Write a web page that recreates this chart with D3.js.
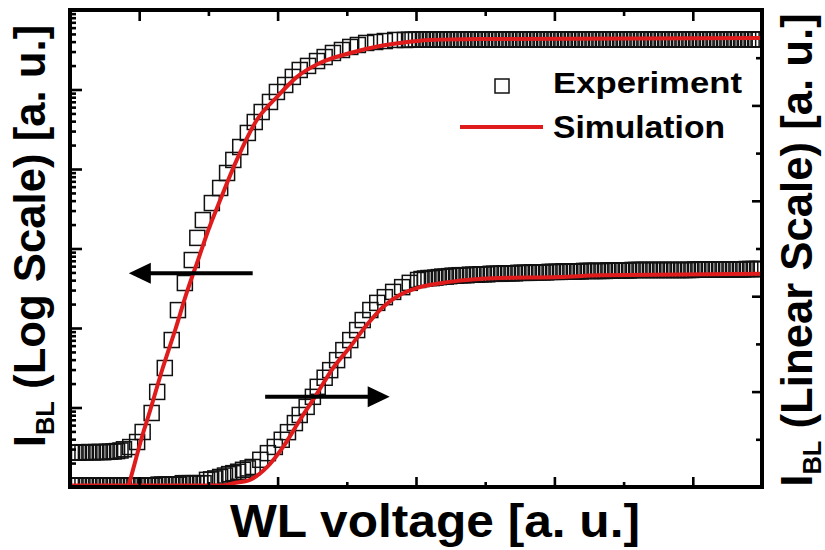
<!DOCTYPE html>
<html><head><meta charset="utf-8">
<script src="https://cdn.jsdelivr.net/npm/d3@7"></script>
<style>body{margin:0;background:#fff}text{font-family:"Liberation Sans",Arial,sans-serif;font-weight:bold;fill:#000}</style>
</head><body><svg id="c" width="825" height="550"></svg>
<script>
// ---- data: [WL voltage (a.u.), I_BL] ----
// Experiment on log axis (I_BL in nA)
const logExperiment = [
[0.03,0.00270],[0.08,0.00272],[0.13,0.00270],[0.18,0.00274],[0.23,0.00272],[0.28,0.00275],[0.33,0.00273],[0.38,0.00275],
[0.43,0.00276],[0.48,0.00274],[0.53,0.00277],[0.58,0.00278],[0.63,0.00280],[0.68,0.00283],[0.73,0.00288],[0.78,0.00298],
[0.87,0.00318],[0.97,0.00368],[1.05,0.00492],[1.18,0.00853],[1.26,0.0157],[1.37,0.0314],[1.47,0.0706],[1.56,0.168],
[1.66,0.368],[1.76,0.716],[1.84,1.36],[1.92,2.28],[2.05,3.73],[2.17,5.77],[2.27,8.91],[2.36,13.0],[2.46,18.9],[2.57,28.4],
[2.67,39.0],[2.77,52.1],[2.89,69.7],[2.99,93.1],[3.11,114],[3.22,144],[3.32,176],[3.44,198],[3.57,228],[3.68,256],
[3.80,288],[3.93,314],[4.05,343],[4.16,363],[4.28,385],[4.41,396],[4.55,407],[4.70,420],[4.84,420],
[4.90,422],[4.95,423],[5.00,424],[5.05,425],[5.10,425],[5.15,426],[5.20,426],[5.25,426],[5.30,426],[5.35,427],[5.40,426],
[5.45,426],[5.50,427],[5.55,426],[5.60,427],[5.65,426],[5.70,427],[5.75,427],[5.80,426],[5.85,427],[5.90,427],[5.95,426],
[6.00,427],[6.05,427],[6.10,427],[6.15,426],[6.20,427],[6.25,427],[6.30,427],[6.35,427],[6.40,426],[6.45,427],[6.50,427],
[6.55,427],[6.60,427],[6.65,427],[6.70,426],[6.75,427],[6.80,427],[6.85,427],[6.90,427],[6.95,427],[7.00,427],[7.05,426],
[7.10,427],[7.15,427],[7.20,427],[7.25,427],[7.30,427],[7.35,427],[7.40,427],[7.45,426],[7.50,427],[7.55,427],[7.60,427],
[7.65,427],[7.70,427],[7.75,427],[7.80,427],[7.85,427],[7.90,427],[7.95,426],[8.00,427],[8.05,427],[8.10,427],[8.15,427],
[8.20,427],[8.25,427],[8.30,427],[8.35,427],[8.40,427],[8.45,427],[8.50,427],[8.55,426],[8.60,427],[8.65,427],[8.70,427],
[8.75,427],[8.80,427],[8.85,427],[8.90,427],[8.95,427],[9.00,427],[9.05,427],[9.10,427],[9.15,427],[9.20,427],[9.25,427],
[9.30,427],[9.35,427],[9.40,427],[9.45,427],[9.50,427],[9.55,427],[9.60,427],[9.65,427],[9.70,427],[9.75,427],[9.80,427],
[9.85,427],[9.90,427],[9.95,427]
];
// Simulation on log axis (nA)
const logSimulation = [
[0.80,0.00077],[0.84,0.00100],[1.04,0.00426],[1.16,0.00931],[1.34,0.0314],[1.52,0.0944],[1.69,0.284],[1.85,0.716],
[2.01,1.81],[2.17,4.07],[2.41,13.0],[2.70,41.3],[2.99,80.5],[3.28,144],[3.61,215],[4.05,288],[4.48,352],[4.77,385],
[5.20,420],[5.92,432],[10.0,444]
];
// Experiment on linear axis (a.u.)
const linExperiment = [
[0.03,0.03],[0.08,0.03],[0.13,0.03],[0.18,0.03],[0.23,0.03],[0.28,0.03],[0.33,0.03],[0.38,0.03],[0.43,0.03],[0.48,0.03],
[0.53,0.03],[0.58,0.03],[0.63,0.03],[0.68,0.03],[0.73,0.03],[0.78,0.03],[0.83,0.03],[0.88,0.03],[0.93,0.03],[0.98,0.03],
[1.03,0.03],[1.08,0.03],[1.13,0.03],[1.18,0.03],[1.23,0.03],[1.28,0.05],[1.33,0.05],[1.38,0.05],[1.43,0.05],[1.48,0.05],
[1.53,0.05],[1.58,0.05],[1.63,0.08],[1.68,0.08],[1.73,0.08],[1.78,0.08],[1.83,0.08],[1.88,0.08],[1.93,0.08],
[1.98,0.15],[2.04,0.16],[2.10,0.18],[2.17,0.21],[2.24,0.24],[2.30,0.27],[2.36,0.29],[2.43,0.32],[2.50,0.36],[2.57,0.39],
[2.64,0.42],[2.75,0.57],[2.86,0.71],[2.96,0.84],[3.06,0.99],[3.15,1.15],[3.25,1.34],[3.32,1.51],[3.42,1.68],[3.51,1.89],
[3.58,2.10],[3.68,2.29],[3.76,2.45],[3.86,2.66],[3.95,2.87],[4.05,3.08],[4.15,3.29],[4.23,3.50],[4.34,3.71],[4.44,3.86],
[4.55,3.98],[4.67,4.09],[4.80,4.19],[4.91,4.28],[5.03,4.34],
[5.08,4.36],[5.13,4.37],[5.18,4.38],[5.23,4.38],[5.28,4.39],[5.33,4.40],[5.38,4.41],[5.43,4.41],[5.48,4.42],[5.53,4.43],
[5.58,4.43],[5.63,4.44],[5.68,4.44],[5.73,4.44],[5.78,4.45],[5.83,4.45],[5.88,4.45],[5.93,4.46],[5.98,4.46],[6.03,4.46],
[6.08,4.47],[6.13,4.47],[6.18,4.47],[6.23,4.47],[6.28,4.48],[6.33,4.48],[6.38,4.48],[6.43,4.48],[6.48,4.49],[6.53,4.49],
[6.58,4.49],[6.63,4.49],[6.68,4.50],[6.73,4.50],[6.78,4.50],[6.83,4.50],[6.88,4.50],[6.93,4.51],[6.98,4.51],[7.03,4.51],
[7.08,4.51],[7.13,4.52],[7.18,4.52],[7.23,4.52],[7.28,4.52],[7.33,4.52],[7.38,4.52],[7.43,4.53],[7.48,4.53],[7.53,4.53],
[7.58,4.53],[7.63,4.53],[7.68,4.53],[7.73,4.53],[7.78,4.54],[7.83,4.54],[7.88,4.54],[7.93,4.54],[7.98,4.54],[8.03,4.54],
[8.08,4.54],[8.13,4.55],[8.18,4.55],[8.23,4.55],[8.28,4.55],[8.33,4.55],[8.38,4.55],[8.43,4.55],[8.48,4.55],[8.53,4.55],
[8.58,4.55],[8.63,4.55],[8.68,4.55],[8.73,4.55],[8.78,4.55],[8.83,4.55],[8.88,4.55],[8.93,4.55],[8.98,4.55],[9.03,4.56],
[9.08,4.56],[9.13,4.56],[9.18,4.56],[9.23,4.56],[9.28,4.56],[9.33,4.56],[9.38,4.56],[9.43,4.56],[9.48,4.56],[9.53,4.56],
[9.58,4.56],[9.63,4.56],[9.68,4.56],[9.73,4.56],[9.78,4.57],[9.83,4.57],[9.88,4.57],[9.93,4.57],[9.98,4.57]
];
// Simulation on linear axis (a.u.)
const linSimulation = [
[0.0,0.03],[1.0,0.03],[2.0,0.03],[2.2,0.03],[2.36,0.08],[2.60,0.15],[2.85,0.42],[3.08,0.84],[3.32,1.40],[3.54,1.89],
[3.80,2.49],[4.05,2.94],[4.29,3.40],[4.52,3.77],[4.77,4.03],[5.01,4.17],[5.49,4.30],[6.21,4.38],[7.08,4.40],[7.66,4.44],[10.0,4.47]
];
// Axis tick values (no labels shown)
const xMajorTicks = [1,3,5,7,9];
const xMinorTicks = [2,4,6,8];
const logMajorTicks = [1e-3,1e-2,1e-1,1,10,100,1000];
const logMinorTicks = [1e-3,1e-2,1e-1,1,10,100].flatMap(d=>[2,3,4,5,6,7,8,9].map(k=>k*d));
const linMajorTicks = [0,2,4,6,8,10];
const linMinorTicks = [1,3,5,7,9];
// Arrow annotations: [voltage from, voltage to, level]
const logArrow = {from:2.64, to:0.85, level:0.49};
const linArrow = {from:2.82, to:4.62, level:1.89};

const svg = d3.select("#c");
const x = d3.scaleLinear().domain([0,10]).range([70,762]);
const yLog = d3.scaleLog().domain([1e-3,1e3]).range([487,10]);
const yLin = d3.scaleLinear().domain([0,10]).range([487,10]);

svg.append("defs").append("clipPath").attr("id","pc").append("rect")
  .attr("x",70).attr("y",10).attr("width",692).attr("height",477);

const plot = svg.append("g").attr("clip-path","url(#pc)");
const SQ = 15;
function squares(data, y){
  plot.append("g").selectAll("rect").data(data).join("rect")
    .attr("x",d=>x(d[0])-SQ/2).attr("y",d=>y(d[1])-SQ/2)
    .attr("width",SQ).attr("height",SQ)
    .attr("fill","none").attr("stroke","#111").attr("stroke-width",1.5);
}
squares(logExperiment, yLog);
squares(linExperiment, yLin);
function simLine(data, y){
  plot.append("path").datum(data)
    .attr("d", d3.line().x(d=>x(d[0])).y(d=>y(d[1])).curve(d3.curveMonotoneX))
    .attr("fill","none").attr("stroke","#e01b1b").attr("stroke-width",4);
}
simLine(logSimulation, yLog);
simLine(linSimulation, yLin);

// arrows
function arrow(a, y){
  const yy = y(a.level), x0 = x(a.from), x1 = x(a.to), dir = Math.sign(x1-x0);
  svg.append("line").attr("x1",x0).attr("x2",x1-dir*12).attr("y1",yy).attr("y2",yy)
    .attr("stroke","#000").attr("stroke-width",4);
  svg.append("path").attr("d",`M${x1},${yy} L${x1-dir*22},${yy-10.5} L${x1-dir*22},${yy+10.5} Z`).attr("fill","#000");
}
arrow(logArrow, yLog);
arrow(linArrow, yLin);

// axes (ticks inward, no labels)
function ax(gen, scale, vals, size, tr){
  const g = svg.append("g").attr("transform",tr)
    .call(gen(scale).tickValues(vals).tickSize(size).tickFormat(""));
  g.select(".domain").remove();
  g.selectAll("line").attr("stroke","#000").attr("stroke-width",2.6);
}
ax(d3.axisBottom, x, xMajorTicks, -10, "translate(0,487)");
ax(d3.axisBottom, x, xMinorTicks, -5, "translate(0,487)");
ax(d3.axisTop, x, xMajorTicks, -11, "translate(0,10)");
ax(d3.axisTop, x, xMinorTicks, -6, "translate(0,10)");
ax(d3.axisLeft, yLog, logMajorTicks, -12, "translate(70,0)");
ax(d3.axisLeft, yLog, logMinorTicks, -6, "translate(70,0)");
ax(d3.axisRight, yLin, linMajorTicks, -10, "translate(762,0)");
ax(d3.axisRight, yLin, linMinorTicks, -6, "translate(762,0)");
svg.append("rect").attr("x",70).attr("y",10).attr("width",692).attr("height",477)
  .attr("fill","none").attr("stroke","#000").attr("stroke-width",4);

// legend
svg.append("rect").attr("x",495).attr("y",79).attr("width",14).attr("height",14)
  .attr("fill","none").attr("stroke","#111").attr("stroke-width",1.5);
svg.append("text").attr("x",553).attr("y",93).attr("font-size",30)
  .attr("textLength",189).attr("lengthAdjust","spacingAndGlyphs").text("Experiment");
svg.append("line").attr("x1",460).attr("x2",543).attr("y1",127).attr("y2",127)
  .attr("stroke","#e01b1b").attr("stroke-width",4);
svg.append("text").attr("x",553).attr("y",138).attr("font-size",30.5)
  .attr("textLength",172).attr("lengthAdjust","spacingAndGlyphs").text("Simulation");

// axis titles
svg.append("text").attr("x",230).attr("y",537).attr("font-size",46)
  .attr("textLength",410).attr("lengthAdjust","spacingAndGlyphs").text("WL voltage [a. u.]");
function vTitle(cx, cy, rest){
  const t = svg.append("text").attr("transform",`translate(${cx},${cy}) rotate(-90)`)
    .attr("text-anchor","middle").attr("font-size",43.7);
  t.append("tspan").text("I");
  t.append("tspan").attr("font-size",25.5).attr("dy",9).text("BL");
  t.append("tspan").attr("dy",-9).text(rest);
}
vTitle(45, 236, " (Log Scale) [a. u.]");
vTitle(812, 250, " (Linear Scale) [a. u.]");
</script></body></html>
